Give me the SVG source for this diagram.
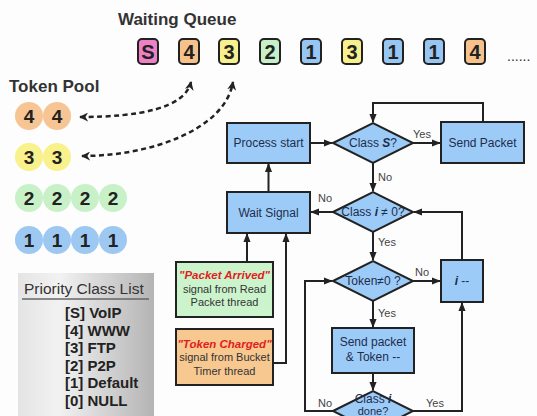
<svg xmlns="http://www.w3.org/2000/svg" width="537" height="416" viewBox="0 0 537 416">
<defs>
<style>
text{font-family:"Liberation Sans",Arial,sans-serif}
.title{font-size:17px;font-weight:bold;fill:#333}
.qbox{stroke:#222;stroke-width:2}
.qd{font-size:20px;font-weight:bold;fill:#222;text-anchor:middle}
.tok{font-size:19px;font-weight:bold;fill:#222;text-anchor:middle}
.box{fill:#9ccbf7;stroke:#222;stroke-width:2}
.ft{font-size:12px;fill:#1e2d4d;text-anchor:middle}
.lbl{font-size:11px;fill:#444}
.ln{fill:none;stroke:#222;stroke-width:2}
.dash{fill:none;stroke:#222;stroke-width:2.5;stroke-dasharray:5 3.5}
.sig{font-size:11px;fill:#333;text-anchor:middle}
.red{font-size:11.5px;fill:#e02020;font-weight:bold;font-style:italic;text-anchor:middle}
.pl{font-size:15px;font-weight:bold;fill:#222}
</style>
<marker id="dh" viewBox="0 0 10 10" refX="9" refY="5" markerWidth="9" markerHeight="9" orient="auto-start-reverse" markerUnits="userSpaceOnUse">
<path d="M0,0 L10,5 L0,10 L3,5 z" fill="#222"/>
</marker>
<marker id="fh" viewBox="0 0 10 10" refX="9" refY="5" markerWidth="9" markerHeight="9" orient="auto" markerUnits="userSpaceOnUse">
<path d="M0,1 L10,5 L0,9 z" fill="#222"/>
</marker>
<linearGradient id="gray" x1="0" y1="0" x2="1" y2="0">
<stop offset="0" stop-color="#e4e4e4"/>
<stop offset="0.3" stop-color="#f2f2f2"/>
<stop offset="1" stop-color="#b4b4b4"/>
</linearGradient>
</defs>
<rect width="537" height="416" fill="#fdfdfd"/>

<g id="waiting-queue">
<text class="title" x="118" y="25">Waiting Queue</text>
<rect class="qbox" x="138" y="39" width="20" height="25" rx="4" fill="#ee80c6"/><text class="qd" x="148" y="59">S</text>
<rect class="qbox" x="179" y="39" width="20" height="25" rx="4" fill="#f7c18c"/><text class="qd" x="189" y="59">4</text>
<rect class="qbox" x="219" y="39" width="20" height="25" rx="4" fill="#f7f08c"/><text class="qd" x="229" y="59">3</text>
<rect class="qbox" x="260" y="39" width="20" height="25" rx="4" fill="#c8f0c8"/><text class="qd" x="270" y="59">2</text>
<rect class="qbox" x="301" y="39" width="20" height="25" rx="4" fill="#98c6f2"/><text class="qd" x="311" y="59">1</text>
<rect class="qbox" x="342" y="39" width="20" height="25" rx="4" fill="#f7f08c"/><text class="qd" x="352" y="59">3</text>
<rect class="qbox" x="383" y="39" width="20" height="25" rx="4" fill="#98c6f2"/><text class="qd" x="393" y="59">1</text>
<rect class="qbox" x="424" y="39" width="20" height="25" rx="4" fill="#98c6f2"/><text class="qd" x="434" y="59">1</text>
<rect class="qbox" x="465" y="39" width="20" height="25" rx="4" fill="#f7c18c"/><text class="qd" x="475" y="59">4</text>
<text x="507" y="61" style="font-size:14px;fill:#333">......</text>
</g>

<g id="token-pool">
<text class="title" x="9" y="92">Token Pool</text>
<g fill="#f7c593"><circle cx="29" cy="116" r="14"/><circle cx="57" cy="116" r="14"/></g>
<text class="tok" x="29" y="123">4</text><text class="tok" x="57" y="123">4</text>
<g fill="#f8f18c"><circle cx="29" cy="157" r="14"/><circle cx="57" cy="157" r="14"/></g>
<text class="tok" x="29" y="164">3</text><text class="tok" x="57" y="164">3</text>
<g fill="#c8f1c8"><circle cx="29" cy="198" r="14"/><circle cx="57" cy="198" r="14"/><circle cx="85" cy="198" r="14"/><circle cx="113" cy="198" r="14"/></g>
<text class="tok" x="29" y="205">2</text><text class="tok" x="57" y="205">2</text><text class="tok" x="85" y="205">2</text><text class="tok" x="113" y="205">2</text>
<g fill="#9dc8f2"><circle cx="29" cy="240" r="14"/><circle cx="57" cy="240" r="14"/><circle cx="85" cy="240" r="14"/><circle cx="113" cy="240" r="14"/></g>
<text class="tok" x="29" y="247">1</text><text class="tok" x="57" y="247">1</text><text class="tok" x="85" y="247">1</text><text class="tok" x="113" y="247">1</text>
</g>

<g id="priority-list">
<rect x="18" y="273" width="136" height="143" fill="url(#gray)"/>
<text x="24" y="294" style="font-size:15.5px;fill:#333">Priority Class List</text>
<line x1="22" y1="299" x2="149" y2="299" stroke="#666" stroke-width="1.5"/>
<text class="pl" x="65" y="318">[S] VoIP</text>
<text class="pl" x="65" y="336">[4] WWW</text>
<text class="pl" x="65" y="353">[3] FTP</text>
<text class="pl" x="65" y="371">[2] P2P</text>
<text class="pl" x="65" y="388">[1] Default</text>
<text class="pl" x="65" y="406">[0] NULL</text>
</g>

<g id="process-start"><rect class="box" x="227" y="123" width="83" height="40"/><text class="ft" x="268.5" y="147">Process start</text></g>
<g id="wait-signal"><rect class="box" x="227" y="192" width="83" height="41"/><text class="ft" x="268.5" y="217">Wait Signal</text></g>
<g id="class-s"><polygon class="box" points="333,143 373,123 413,143 373,163"/><text class="ft" x="373" y="147">Class <tspan font-weight="bold" font-style="italic">S</tspan>?</text></g>
<g id="send-packet"><rect class="box" x="441" y="122" width="83" height="41"/><text class="ft" x="482.5" y="147">Send Packet</text></g>
<g id="class-i"><polygon class="box" points="333,212 373,192 413,212 373,232"/><text class="ft" x="373" y="216">Class <tspan font-weight="bold" font-style="italic">i</tspan> ≠ 0?</text></g>
<g id="token-check"><polygon class="box" points="333,281 373,261 413,281 373,301"/><text class="ft" x="373" y="285">Token≠0 ?</text></g>
<g id="i-dec"><rect class="box" x="441" y="260" width="42" height="42"/><text class="ft" x="462" y="285"><tspan font-weight="bold" font-style="italic">i</tspan> --</text></g>
<g id="send-token"><rect class="box" x="332" y="328" width="82" height="45"/><text class="ft" x="373" y="346">Send packet</text><text class="ft" x="373" y="361">&amp; Token --</text></g>
<g id="class-done"><polygon class="box" points="333,411 373,391 413,411 373,431"/><text class="ft" x="373" y="403">Class <tspan font-weight="bold" font-style="italic">i</tspan></text><text class="ft" x="373" y="415" style="font-size:11px">done?</text></g>
<g id="packet-arrived"><rect x="176" y="262" width="97" height="55" fill="#ccf4cc" stroke="#222" stroke-width="2"/>
<text class="red" x="224.5" y="279">"Packet Arrived"</text><text class="sig" x="224.5" y="293">signal from Read</text><text class="sig" x="224.5" y="306">Packet thread</text></g>
<g id="token-charged"><rect x="176" y="329" width="97" height="56" fill="#f8c891" stroke="#222" stroke-width="2"/>
<text class="red" x="224.5" y="348">"Token Charged"</text><text class="sig" x="224.5" y="361">signal from Bucket</text><text class="sig" x="224.5" y="375">Timer thread</text></g>

<g id="connectors">
<path class="dash" d="M80,117 C140,117 185,108 191,82" marker-start="url(#dh)" marker-end="url(#dh)"/>
<path class="dash" d="M82,156 C150,156 225,130 233,82" marker-start="url(#dh)" marker-end="url(#dh)"/>
<path class="ln" d="M310,143 L332,143" marker-end="url(#fh)"/>
<path class="ln" d="M268.5,192 L268.5,164" marker-end="url(#fh)"/>
<path class="ln" d="M413,143 L440,143" marker-end="url(#fh)"/>
<path class="ln" d="M483,122 L483,103 L373,103 L373,122" marker-end="url(#fh)"/>
<path class="ln" d="M373,163 L373,191" marker-end="url(#fh)"/>
<path class="ln" d="M333,212 L311,212" marker-end="url(#fh)"/>
<path class="ln" d="M462,260 L462,212 L414,212" marker-end="url(#fh)"/>
<path class="ln" d="M373,232 L373,260" marker-end="url(#fh)"/>
<path class="ln" d="M413,281 L440,281" marker-end="url(#fh)"/>
<path class="ln" d="M373,301 L373,327" marker-end="url(#fh)"/>
<path class="ln" d="M373,373 L373,390" marker-end="url(#fh)"/>
<path class="ln" d="M333,411 L305,411 L305,281 L332,281" marker-end="url(#fh)"/>
<path class="ln" d="M413,411 L462,411 L462,303" marker-end="url(#fh)"/>
<path class="ln" d="M247,262 L247,234" marker-end="url(#fh)"/>
<path class="ln" d="M273,363 L286,363 L286,234" marker-end="url(#fh)"/>
<text class="lbl" x="413" y="138">Yes</text>
<text class="lbl" x="378" y="181">No</text>
<text class="lbl" x="318" y="202">No</text>
<text class="lbl" x="378" y="246">Yes</text>
<text class="lbl" x="415" y="276">No</text>
<text class="lbl" x="378" y="317">Yes</text>
<text class="lbl" x="318" y="407">No</text>
<text class="lbl" x="426" y="407">Yes</text>
</g>
</svg>
